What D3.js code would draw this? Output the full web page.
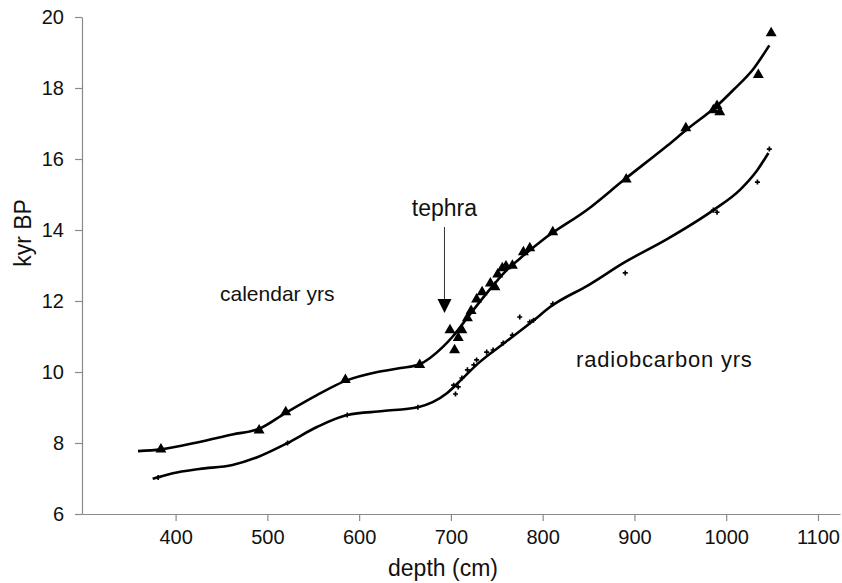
<!DOCTYPE html>
<html>
<head>
<meta charset="utf-8">
<script src="https://cdn.jsdelivr.net/npm/d3@7"></script>
<style>
  html, body { margin: 0; padding: 0; background: #fff; }
  svg text { font-family: "Liberation Sans", Arial, sans-serif; fill: #111; }
</style>
</head>
<body>
<svg id="chart" width="842" height="583"></svg>
<script>
// ---------- data ----------
const xTicks = [400, 500, 600, 700, 800, 900, 1000, 1100];
const yTicks = [6, 8, 10, 12, 14, 16, 18, 20];

// calendar age-depth curve (fitted line) : [depth cm, kyr BP]
const calendarCurve = [
  [359, 7.77], [384, 7.82], [426, 8.03], [462, 8.24], [491, 8.40], [520, 8.85],
  [554, 9.35], [585, 9.75], [620, 10.0], [645, 10.11], [666, 10.22], [691, 10.7],
  [702, 11.0], [720, 11.6], [740, 12.25], [760, 12.85], [780, 13.3], [800, 13.72],
  [850, 14.6], [888, 15.4], [936, 16.38], [958, 16.85], [990, 17.5], [1008, 17.95],
  [1030, 18.55], [1047, 19.2]
];
// calendar dated samples (triangles)
const calendarPoints = [
  [384, 7.82], [491, 8.36], [520, 8.87], [585, 9.78], [666, 10.2],
  [699, 11.18], [704, 10.62], [708, 10.96], [712, 11.18], [718, 11.52], [722, 11.72],
  [728, 12.05], [734, 12.25], [743, 12.5], [748, 12.39], [751, 12.75], [756, 12.93],
  [760, 12.98], [767, 13.0], [779, 13.38], [786, 13.49], [811, 13.94], [891, 15.43],
  [956, 16.87], [986, 17.38], [990, 17.5], [993, 17.32], [1035, 18.37], [1049, 19.55]
];
// radiocarbon age-depth curve (fitted line)
const radiocarbonCurve = [
  [375, 6.99], [397, 7.15], [426, 7.27], [462, 7.38], [489, 7.6], [522, 8.0],
  [554, 8.45], [587, 8.79], [626, 8.9], [664, 9.01], [696, 9.41], [712, 9.8],
  [730, 10.25], [760, 10.85], [790, 11.45], [808, 11.83], [850, 12.45], [890, 13.1],
  [936, 13.75], [986, 14.56], [1015, 15.13], [1034, 15.69], [1046, 16.17]
];
// radiocarbon dated samples (crosses)
const radiocarbonPoints = [
  [381, 7.03], [522, 8.0], [587, 8.79], [664, 9.01],
  [703, 9.63], [705, 9.38], [708, 9.58], [712, 9.83], [718, 10.06], [725, 10.2],
  [728, 10.34], [739, 10.56], [746, 10.62], [757, 10.82], [767, 11.04], [775, 11.55],
  [786, 11.41], [790, 11.46], [811, 11.92], [890, 12.79], [986, 14.56], [990, 14.5],
  [1034, 15.35], [1047, 16.28]
];
const labels = { x: "depth (cm)", y: "kyr BP", cal: "calendar yrs", rc: "radiobcarbon yrs", tephra: "tephra" };
const tephraDepth = 693;

// ---------- chart ----------
const svg = d3.select("#chart");
const x = d3.scaleLinear().domain([298, 1124]).range([82, 840]);
const y = d3.scaleLinear().domain([6, 20]).range([514, 17]);
const axisColor = "#8a8a8a";

const gx = svg.append("g").attr("transform", `translate(0,${y(6)})`)
  .call(d3.axisBottom(x).tickValues(xTicks).tickFormat(d3.format("d"))
    .tickSize(7).tickPadding(6).tickSizeOuter(0));
const gy = svg.append("g").attr("transform", `translate(${x(298)},0)`)
  .call(d3.axisLeft(y).tickValues(yTicks).tickFormat(d3.format("d"))
    .tickSize(7).tickPadding(11).tickSizeOuter(0));
[gx, gy].forEach(g => {
  g.select(".domain").attr("stroke", axisColor).attr("stroke-width", 1.2);
  g.selectAll(".tick line").attr("stroke", axisColor).attr("stroke-width", 1.2);
  g.selectAll(".tick text").attr("font-size", 20).attr("fill", "#111")
    .attr("font-family", "Liberation Sans, Arial, sans-serif");
});
gx.selectAll(".tick text").attr("dy", "0.85em");

const line = d3.line().x(d => x(d[0])).y(d => y(d[1])).curve(d3.curveMonotoneX);
svg.append("path").datum(calendarCurve).attr("d", line)
  .attr("fill", "none").attr("stroke", "#000").attr("stroke-width", 2.6);
svg.append("path").datum(radiocarbonCurve).attr("d", line)
  .attr("fill", "none").attr("stroke", "#000").attr("stroke-width", 2.6);

const tri = d3.symbol().type(d3.symbolTriangle).size(52);
svg.append("g").selectAll("path").data(calendarPoints).join("path")
  .attr("d", tri).attr("transform", d => `translate(${x(d[0])},${y(d[1])})`)
  .attr("fill", "#000");

svg.append("g").selectAll("path").data(radiocarbonPoints).join("path")
  .attr("d", d3.symbol().type(d3.symbolCross).size(14))
  .attr("transform", d => `translate(${x(d[0])},${y(d[1])})`)
  .attr("fill", "#000");

// axis titles
svg.append("text").attr("x", 443).attr("y", 576).attr("text-anchor", "middle")
  .attr("font-size", 23).text(labels.x);
svg.append("text").attr("transform", `translate(31,233) rotate(-90)`).attr("text-anchor", "middle")
  .attr("font-size", 23).text(labels.y);

// annotations
svg.append("text").attr("x", 220).attr("y", 301).attr("font-size", 21).text(labels.cal);
svg.append("text").attr("x", 576).attr("y", 367).attr("font-size", 22)
  .attr("letter-spacing", 0.8).text(labels.rc);
svg.append("text").attr("x", x(tephraDepth)).attr("y", 216).attr("text-anchor", "middle")
  .attr("font-size", 23).text(labels.tephra);

// tephra arrow
const ax = x(tephraDepth);
svg.append("line").attr("x1", ax).attr("x2", ax).attr("y1", 227).attr("y2", 302)
  .attr("stroke", "#333").attr("stroke-width", 1);
svg.append("path")
  .attr("d", `M${ax - 7},${299} L${ax + 7},${299} L${ax},${313} Z`)
  .attr("fill", "#000");
</script>
</body>
</html>
